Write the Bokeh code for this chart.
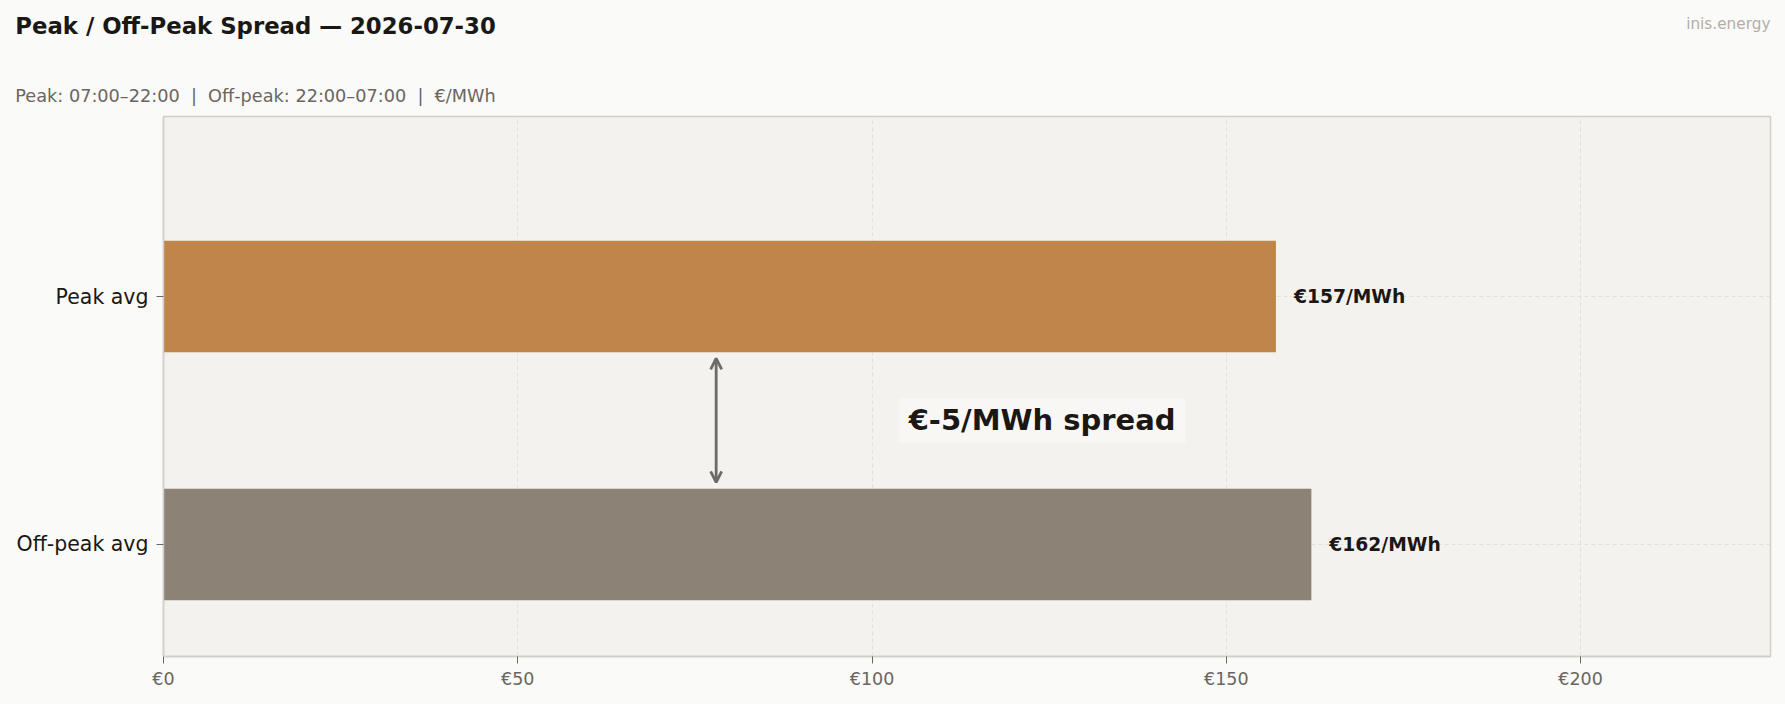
from bokeh.plotting import figure
from bokeh.models import (Range1d, FixedTicker, Label, Arrow, OpenHead,
                          ColumnDataSource, GlobalInlineStyleSheet)
from bokeh.core.properties import value
from bokeh.embed import file_html
from bokeh.resources import INLINE

# ---- data ----
categories = ["Off-peak avg", "Peak avg"]
prices = [162, 157]
bar_colors = ["#8d8276", "#c0854a"]
x_ticks = [0, 50, 100, 150, 200]
x_tick_labels = ["€0", "€50", "€100", "€150", "€200"]
title_text = "Peak / Off-Peak Spread — 2026-07-30"
subtitle_text = "Peak: 07:00–22:00 \u00a0|\u00a0 Off-peak: 22:00–07:00 \u00a0|\u00a0 €/MWh"
watermark_text = "inis.energy"

FONT = "DejaVu Sans"
PAGE_BG = "#fafaf8"
PLOT_BG = "#f3f2ee"
BORDER = "#d2cec8"
DARK = "#1a1714"
GREY = "#6b6560"
PAGE_CSS = GlobalInlineStyleSheet(css="html, body { background-color: #fafaf8; }")

W = 1785
HH = 110                      # header height
H = 704 - HH                  # main figure height
ML, MR, MT, MB = 163, 15, 6, 48

# ---- header figure (title, subtitle, watermark) ----
hdr = figure(width=W, height=HH, output_backend="svg", toolbar_location=None,
             x_range=Range1d(0, W), y_range=Range1d(HH, 0),
             min_border_left=0, min_border_right=0,
             min_border_top=0, min_border_bottom=0)
hdr.axis.visible = False
hdr.grid.visible = False
hdr.outline_line_color = None
hdr.background_fill_color = PAGE_BG
hdr.border_fill_color = PAGE_BG
hdr.stylesheets = [PAGE_CSS]
hdr.text(x=[14.8], y=[25.3], text=[title_text], text_font=value(FONT),
         text_font_style="bold", text_font_size="22.8px", text_color=DARK,
         text_baseline="alphabetic", text_align="left")
hdr.text(x=[14.8], y=[95.3], text=[subtitle_text], text_font=value(FONT),
         text_font_size="17.7px", text_color=GREY,
         text_baseline="alphabetic", text_align="left")
hdr.text(x=[1770], y=[23.3], text=[watermark_text], text_font=value(FONT),
         text_font_size="15.3px", text_color="#b3aea8",
         text_baseline="alphabetic", text_align="right")

# ---- main chart ----
ypos = list(range(len(categories)))
value_labels = [f"€{v}/MWh" for v in prices]
src = ColumnDataSource(dict(y=ypos, right=prices, color=bar_colors, label=value_labels))

p = figure(width=W, height=H, output_backend="svg", toolbar_location=None,
           x_range=Range1d(0, max(prices) * 1.4), y_range=Range1d(-0.452, 1.726),
           min_border_left=ML, min_border_right=MR, min_border_top=MT, min_border_bottom=MB)
p.stylesheets = [PAGE_CSS]
p.background_fill_color = PLOT_BG
p.border_fill_color = PAGE_BG
p.outline_line_color = BORDER
p.outline_line_width = 1.5

p.hbar(y="y", left=0, right="right", height=0.45, fill_color="color", line_color=None, source=src)
p.text(x="right", y="y", text="label", source=src, x_offset=18,
       text_font=value(FONT), text_font_style="bold", text_font_size="18.7px",
       text_color=DARK, text_baseline="middle", text_align="left")

# grids
p.xgrid.ticker = FixedTicker(ticks=x_ticks)
p.ygrid.ticker = FixedTicker(ticks=ypos)
for g in (p.xgrid, p.ygrid):
    g.grid_line_color = "#e3e0db"
    g.grid_line_dash = "4 3"
    g.grid_line_width = 1

# axes
xa = p.xaxis[0]
xa.ticker = FixedTicker(ticks=x_ticks)
xa.major_label_overrides = {t: l for t, l in zip(x_ticks, x_tick_labels)}
ya = p.yaxis[0]
ya.ticker = FixedTicker(ticks=ypos)
ya.major_label_overrides = {i: c for i, c in zip(ypos, categories)}
for ax in (xa, ya):
    ax.axis_line_color = BORDER
    ax.axis_line_width = 1.5
    ax.major_tick_line_color = GREY
    ax.major_tick_line_width = 1
    ax.major_tick_out = 7
    ax.major_tick_in = 0
    ax.minor_tick_line_color = None
    ax.major_label_text_font = FONT
xa.major_label_text_font_size = "17.5px"
xa.major_label_text_color = GREY
xa.major_label_standoff = 5
ya.major_label_text_font_size = "20.5px"
ya.major_label_text_color = DARK
ya.major_label_standoff = 8

# spread arrow + label
peak_v, off_v = prices[1], prices[0]
spread = peak_v - off_v
arrow_x = 78
ARROW = "#6e6a66"
p.add_layout(Arrow(x_start=arrow_x, y_start=0.25, x_end=arrow_x, y_end=0.75,
                   line_color=ARROW, line_width=2.8,
                   start=OpenHead(size=11, line_color=ARROW, line_width=2.8),
                   end=OpenHead(size=11, line_color=ARROW, line_width=2.8)))
p.add_layout(Label(x=124, y=0.5, text=f"€{spread}/MWh spread", text_align="center",
                   text_baseline="middle", text_font=FONT, text_font_style="bold",
                   text_font_size="29px", text_color=DARK,
                   background_fill_color="#f8f7f5", background_fill_alpha=1.0,
                   padding=dict(left=10, right=10, top=5, bottom=5)))

open("out.html", "w").write(file_html([hdr, p], INLINE))
